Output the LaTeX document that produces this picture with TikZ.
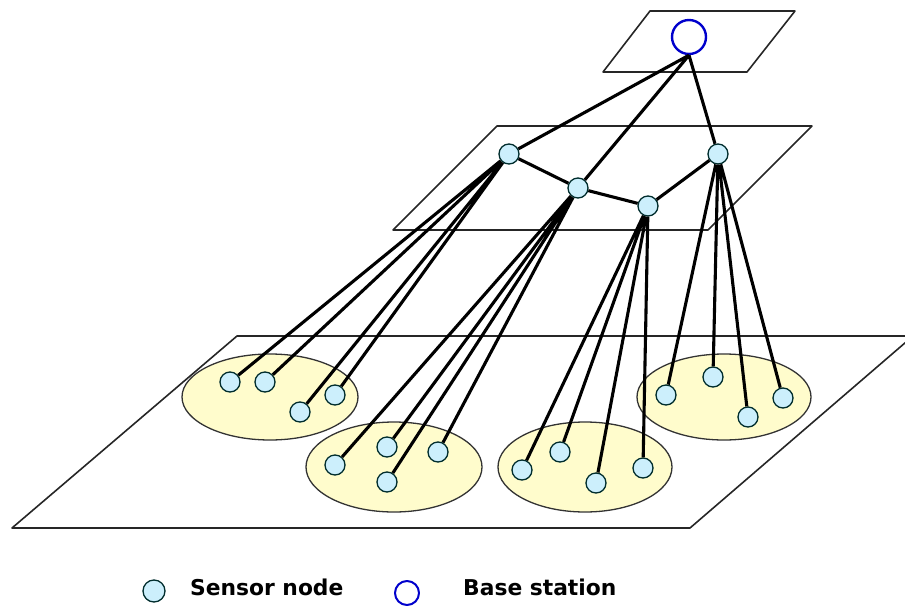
\documentclass[tikz,border=0pt]{standalone}
\usepackage{fontspec}
\newfontfamily\legendfont{DejaVu Sans}

\begin{document}
\begin{tikzpicture}[x=1pt, y=-1pt, line join=round,
  plane/.style={draw=black!85, line width=1.6pt},
  cluster/.style={draw=black!80, fill=yellow!20, line width=1.3pt},
  sensor/.style={circle, draw=black!65!teal, fill=cyan!20, line width=1.3pt, minimum size=20pt, inner sep=0pt},
  base/.style={circle, draw=blue!80!black, line width=2.4pt, minimum size=34pt, inner sep=0pt},
  link/.style={draw=black, line width=3.1pt},
  legend/.style={anchor=base west, inner sep=0pt, font=\legendfont\bfseries\fontsize{21.8}{26}\selectfont}]
  \useasboundingbox (0,0) rectangle (905,608);
  % planes
  \path[plane] (650,11) -- (795,11) -- (747,72) -- (603,72) -- cycle;
  \path[plane] (497,126) -- (812,126) -- (708,230) -- (393,230) -- cycle;
  \path[plane] (237,336) -- (913,336) -- (690,528) -- (12,528) -- cycle;
  % clusters
  \path[cluster] (270,397) ellipse [x radius=88, y radius=43];
  \path[cluster] (394,467) ellipse [x radius=88, y radius=45];
  \path[cluster] (585,467) ellipse [x radius=87, y radius=45];
  \path[cluster] (724,397) ellipse [x radius=87, y radius=43];
  % base station and cluster heads
  \node[base] (bs) at (689,37) {};
  \node[sensor] (h1) at (509,154) {};
  \node[sensor] (h2) at (578,188) {};
  \node[sensor] (h3) at (648,206) {};
  \node[sensor] (h4) at (718,154) {};
  % sensors
  \node[sensor] (s11) at (230,382) {};
  \node[sensor] (s12) at (265,382) {};
  \node[sensor] (s13) at (300,412) {};
  \node[sensor] (s14) at (335,395) {};
  \node[sensor] (s21) at (335,465) {};
  \node[sensor] (s22) at (387,447) {};
  \node[sensor] (s23) at (387,482) {};
  \node[sensor] (s24) at (438,452) {};
  \node[sensor] (s31) at (522,470) {};
  \node[sensor] (s32) at (560,452) {};
  \node[sensor] (s33) at (596,483) {};
  \node[sensor] (s34) at (643,468) {};
  \node[sensor] (s41) at (666,395) {};
  \node[sensor] (s42) at (713,377) {};
  \node[sensor] (s43) at (748,417) {};
  \node[sensor] (s44) at (783,398) {};
  % links
  \path[link] (bs.south) -- (h1) (bs.south) -- (h2) (bs.south) -- (h4);
  \path[link] (h1) -- (h2) -- (h3) -- (h4);
  \path[link] (h1) -- (s11) (h1) -- (s12) (h1) -- (s13) (h1) -- (s14);
  \path[link] (h2) -- (s21) (h2) -- (s22) (h2) -- (s23) (h2) -- (s24);
  \path[link] (h3) -- (s31) (h3) -- (s32) (h3) -- (s33) (h3) -- (s34);
  \path[link] (h4) -- (s41) (h4) -- (s42) (h4) -- (s43) (h4) -- (s44);
  % legend
  \node[sensor, minimum size=22pt] (lsensor) at (154,591) {};
  \node[legend] (lsensortext) at (190,595) {Sensor node};
  \node[base, minimum size=24pt, line width=2pt] (lbase) at (407,593) {};
  \node[legend] (lbasetext) at (463,595) {Base station};
\end{tikzpicture}
\end{document}
